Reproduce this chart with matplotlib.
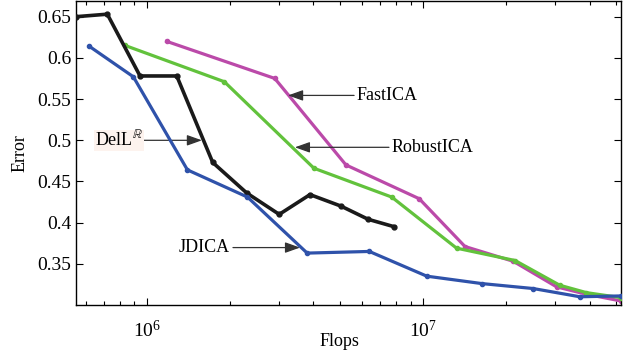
import matplotlib
matplotlib.use("Agg")
import matplotlib.pyplot as plt
from matplotlib.ticker import LogLocator, NullFormatter, FixedLocator

plt.rcParams['font.family'] = ['Liberation Serif', 'DejaVu Serif']
plt.rcParams['mathtext.fontset'] = 'stix'

# Data
dell_x = [5.55e5, 7.18e5, 9.43e5, 1.281e6, 1.729e6, 2.295e6, 3.01e6, 3.89e6, 5.04e6, 6.32e6, 7.85e6]
dell_y = [0.650, 0.653, 0.578, 0.578, 0.473, 0.436, 0.410, 0.434, 0.420, 0.404, 0.395]

jdica_x = [6.18e5, 8.92e5, 1.40e6, 2.31e6, 3.80e6, 6.38e6, 1.03e7, 1.63e7, 2.50e7, 3.69e7, 5.18e7]
jdica_y = [0.614, 0.577, 0.464, 0.431, 0.363, 0.365, 0.335, 0.326, 0.320, 0.310, 0.311]

robust_x = [8.33e5, 1.905e6, 4.02e6, 7.69e6, 1.32e7, 2.15e7, 3.12e7, 3.90e7, 5.18e7]
robust_y = [0.615, 0.571, 0.466, 0.431, 0.369, 0.354, 0.324, 0.315, 0.309]

fast_x = [1.178e6, 2.90e6, 5.25e6, 9.67e6, 1.416e7, 2.12e7, 3.04e7, 3.90e7, 5.18e7]
fast_y = [0.620, 0.575, 0.470, 0.429, 0.371, 0.353, 0.322, 0.313, 0.305]

y_ticks = [0.35, 0.4, 0.45, 0.5, 0.55, 0.6, 0.65]
y_tick_labels = ['0.35', '0.4', '0.45', '0.5', '0.55', '0.6', '0.65']

fig = plt.figure(figsize=(6.32, 3.53), dpi=100)
ax = fig.add_axes([76/632, 1-305/353, (621-76)/632, 304/353])

ax.plot(fast_x, fast_y, color='#bb4aa9', lw=2.3, marker='o', ms=3, zorder=2)
ax.plot(robust_x, robust_y, color='#62c23c', lw=2.3, marker='o', ms=3, zorder=3)
ax.plot(dell_x, dell_y, color='#1a1a1a', lw=2.6, marker='o', ms=3.5, zorder=4)
ax.plot(jdica_x, jdica_y, color='#2f52aa', lw=2.3, marker='o', ms=3, zorder=5)

ax.set_xscale('log')
ax.set_xlim(5.53e5, 5.2e7)
ax.set_ylim(0.30, 0.669)
ax.yaxis.set_major_locator(FixedLocator(y_ticks))
ax.set_yticklabels(y_tick_labels)
ax.xaxis.set_major_locator(LogLocator(base=10, numticks=10))
ax.xaxis.set_minor_locator(LogLocator(base=10, subs=range(2, 10), numticks=20))
ax.xaxis.set_minor_formatter(NullFormatter())

ax.tick_params(which='both', direction='in', top=True, right=True, labelsize=14, width=0.8)
ax.tick_params(which='major', length=5)
ax.tick_params(which='minor', length=3)
ax.tick_params(axis='x', pad=11)
for s in ax.spines.values():
    s.set_linewidth(1.0)

ax.set_xlabel('Flops', fontsize=13, va='center')
ax.xaxis.set_label_coords((339-76)/545, -(341-305)/304)
ax.set_ylabel('Error', fontsize=13, va='center')
ax.yaxis.set_label_coords(-(76-20)/545, 0.5)

ap = dict(arrowstyle='-|>,head_length=0.7,head_width=0.25', color='#333333', lw=0.9,
          shrinkA=0, shrinkB=0)
ax.annotate('FastICA', xy=(3.24e6, 0.5544), xytext=(5.75e6, 0.5544), fontsize=13,
            va='center', ha='left', arrowprops=ap)
ax.annotate('RobustICA', xy=(3.43e6, 0.4914), xytext=(7.69e6, 0.4914), fontsize=13,
            va='center', ha='left', arrowprops=ap)
ax.annotate(r'DelL$^{\mathbb{R}}$', xy=(1.58e6, 0.4999), xytext=(9.67e5, 0.4999), fontsize=13,
            va='center', ha='right', arrowprops=ap,
            bbox=dict(boxstyle='square,pad=0.05', fc='#fdf3ee', ec='none'))
ax.annotate('JDICA', xy=(3.58e6, 0.3697), xytext=(2.0e6, 0.3697), fontsize=13,
            va='center', ha='right', arrowprops=ap)

fig.savefig('out.png', dpi=100)
